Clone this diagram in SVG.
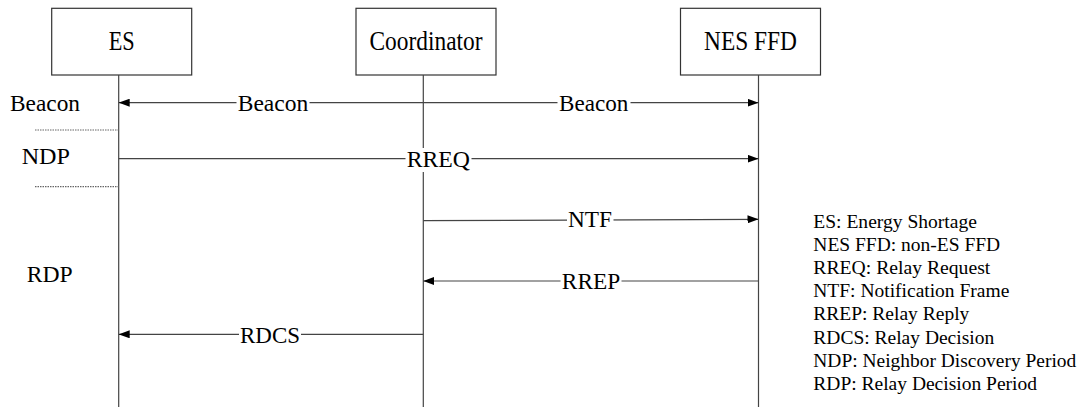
<svg xmlns="http://www.w3.org/2000/svg" width="1083" height="407" viewBox="0 0 1083 407" font-family="'Liberation Serif', 'DejaVu Serif', serif">
<style>
  .box { fill: #fff; stroke: #333; stroke-width: 1.2; }
  .life { stroke: #444; stroke-width: 1.2; fill: none; }
  .msg { stroke: #444; stroke-width: 1.2; fill: none; }
  .dot { stroke: #666; stroke-width: 1.2; stroke-dasharray: 1.5 1; fill: none; }
  .bl { font-family: 'Liberation Serif', 'DejaVu Serif', serif; font-size: 23.5px; text-anchor: middle; fill: #000; }
  .lab { font-family: 'Liberation Serif', 'DejaVu Serif', serif; font-size: 23px; text-anchor: middle; fill: #000; }
  .side { font-family: 'Liberation Serif', 'DejaVu Serif', serif; font-size: 23.5px; fill: #000; }
  .leg { font-family: 'Liberation Serif', 'DejaVu Serif', serif; font-size: 19.5px; fill: #000; }
  .bg { fill: #fff; }
</style>
<defs>
  <marker id="ah" viewBox="0 0 11 8" refX="11" refY="4" markerWidth="11" markerHeight="8" markerUnits="userSpaceOnUse" orient="auto-start-reverse">
    <path d="M0,0 L11,4 L0,8 z" fill="#000"/>
  </marker>
</defs>

<g id="node-es">
  <rect class="box" x="51.7" y="8.3" width="140" height="66.7"/>
  <line class="life" x1="118.7" y1="75" x2="118.7" y2="407"/>
  <text class="bl" transform="translate(121.7,50) scale(1,1.13)" textLength="26" lengthAdjust="spacingAndGlyphs">ES</text>
</g>
<g id="node-coordinator">
  <rect class="box" x="356" y="8.3" width="140" height="66.7"/>
  <line class="life" x1="423.3" y1="75" x2="423.3" y2="407"/>
  <text class="bl" transform="translate(426,50) scale(1,1.13)" textLength="113" lengthAdjust="spacingAndGlyphs">Coordinator</text>
</g>
<g id="node-nesffd">
  <rect class="box" x="680.5" y="8.3" width="140" height="66.7"/>
  <line class="life" x1="758.5" y1="75" x2="758.5" y2="407"/>
  <text class="bl" transform="translate(750.5,50) scale(1,1.13)" textLength="93" lengthAdjust="spacingAndGlyphs">NES FFD</text>
</g>

<g id="connectors">
  <line class="msg" x1="118.7" y1="102.7" x2="758.5" y2="102.7" marker-start="url(#ah)" marker-end="url(#ah)"/>
  <line class="msg" x1="118.7" y1="158.7" x2="758.5" y2="158.7" marker-end="url(#ah)"/>
  <line class="msg" x1="423.3" y1="220.7" x2="758.5" y2="219.3" marker-end="url(#ah)"/>
  <line class="msg" x1="758.5" y1="281" x2="423.3" y2="281" marker-end="url(#ah)"/>
  <line class="msg" x1="423.3" y1="334.3" x2="118.7" y2="334.3" marker-end="url(#ah)"/>
  <line class="dot" x1="35" y1="130" x2="118.7" y2="130"/>
  <line class="dot" x1="35" y1="186.7" x2="118.7" y2="186.7"/>
</g>

<g id="message-labels">
  <rect class="bg" x="236.5" y="92" width="73" height="22"/>
  <text class="lab" x="273" y="110.7" textLength="70.6" lengthAdjust="spacingAndGlyphs">Beacon</text>
  <rect class="bg" x="557.5" y="92" width="73" height="22"/>
  <text class="lab" x="593.7" y="110.7" textLength="69.3" lengthAdjust="spacingAndGlyphs">Beacon</text>
  <rect class="bg" x="405.5" y="148" width="66" height="24"/>
  <text class="lab" x="438.3" y="167.3" textLength="63.3" lengthAdjust="spacingAndGlyphs">RREQ</text>
  <rect class="bg" x="567" y="210" width="46.5" height="19"/>
  <text class="lab" x="590" y="226.7" textLength="44" lengthAdjust="spacingAndGlyphs">NTF</text>
  <rect class="bg" x="560.5" y="271" width="61" height="21"/>
  <text class="lab" x="591" y="289.3" textLength="58.3" lengthAdjust="spacingAndGlyphs">RREP</text>
  <rect class="bg" x="239" y="324" width="62" height="21"/>
  <text class="lab" x="270" y="342.7" textLength="60" lengthAdjust="spacingAndGlyphs">RDCS</text>
</g>

<g id="period-labels">
  <text class="side" x="10" y="110.7" textLength="70" lengthAdjust="spacingAndGlyphs">Beacon</text>
  <text class="side" x="21.7" y="164" textLength="48.3" lengthAdjust="spacingAndGlyphs">NDP</text>
  <text class="side" x="26.7" y="281.7" textLength="46" lengthAdjust="spacingAndGlyphs">RDP</text>
</g>

<g id="legend">
  <text class="leg" x="813.3" y="227.6" textLength="163.6" lengthAdjust="spacingAndGlyphs">ES: Energy Shortage</text>
  <text class="leg" x="813.3" y="250.8" textLength="186.9" lengthAdjust="spacingAndGlyphs">NES FFD: non-ES FFD</text>
  <text class="leg" x="813.3" y="274" textLength="177" lengthAdjust="spacingAndGlyphs">RREQ: Relay Request</text>
  <text class="leg" x="813.3" y="297.2" textLength="196" lengthAdjust="spacingAndGlyphs">NTF: Notification Frame</text>
  <text class="leg" x="813.3" y="320.4" textLength="156" lengthAdjust="spacingAndGlyphs">RREP: Relay Reply</text>
  <text class="leg" x="813.3" y="343.6" textLength="180.9" lengthAdjust="spacingAndGlyphs">RDCS: Relay Decision</text>
  <text class="leg" x="813.3" y="366.8" textLength="263" lengthAdjust="spacingAndGlyphs">NDP: Neighbor Discovery Period</text>
  <text class="leg" x="813.3" y="390" textLength="223.7" lengthAdjust="spacingAndGlyphs">RDP: Relay Decision Period</text>
</g>
</svg>
